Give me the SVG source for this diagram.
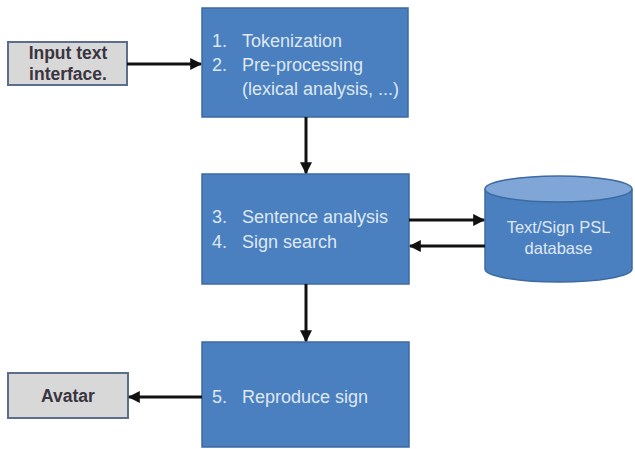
<svg xmlns="http://www.w3.org/2000/svg" width="635" height="449" viewBox="0 0 635 449">
  <defs>
    <marker id="arrow" viewBox="0 0 10 10" refX="9" refY="5" markerWidth="4" markerHeight="4" orient="auto" markerUnits="strokeWidth">
      <path d="M0,0 L10,5 L0,10 z" fill="#111"/>
    </marker>
    <style>
      .proc { fill: #4a7fc0; stroke: #3d6aa3; stroke-width: 1.5; }
      .io { fill: #d8d8d8; stroke: #5b6f8c; stroke-width: 2; }
      .ptxt { font-family: "Liberation Sans", Arial, sans-serif; font-size: 18px; fill: #dfe8f3; }
      .dbtxt { font-family: "Liberation Sans", Arial, sans-serif; font-size: 16.5px; fill: #dfe8f3; text-anchor: middle; }
      .iotxt { font-family: "Liberation Sans", Arial, sans-serif; font-size: 17.5px; font-weight: bold; fill: #3a3540; text-anchor: middle; }
      .conn { stroke: #111; stroke-width: 3; fill: none; marker-end: url(#arrow); }
    </style>
  </defs>
  <rect width="635" height="449" fill="#ffffff"/>

  <g id="input">
    <rect class="io" x="8" y="42" width="119" height="43"/>
    <text class="iotxt" x="68" y="59">Input text</text>
    <text class="iotxt" x="68" y="80">interface.</text>
  </g>

  <g id="step1">
    <rect class="proc" x="202" y="8" width="206" height="109"/>
    <text class="ptxt" x="212" y="47">1.</text>
    <text class="ptxt" x="242" y="47">Tokenization</text>
    <text class="ptxt" x="212" y="71">2.</text>
    <text class="ptxt" x="242" y="71">Pre-processing</text>
    <text class="ptxt" x="242" y="95">(lexical analysis, ...)</text>
  </g>

  <g id="step2">
    <rect class="proc" x="202" y="174" width="207" height="110"/>
    <text class="ptxt" x="212" y="223">3.</text>
    <text class="ptxt" x="242" y="223">Sentence analysis</text>
    <text class="ptxt" x="212" y="248">4.</text>
    <text class="ptxt" x="242" y="248">Sign search</text>
  </g>

  <g id="database">
    <path class="proc" d="M485,189 L485,269 A73.5,13 0 0 0 632,269 L632,189"/>
    <ellipse cx="558.5" cy="189" rx="73.5" ry="13" fill="#7fa6d6" stroke="#3d6aa3" stroke-width="1.5"/>
    <text class="dbtxt" x="558.5" y="233">Text/Sign PSL</text>
    <text class="dbtxt" x="558.5" y="254">database</text>
  </g>

  <g id="step3">
    <rect class="proc" x="202" y="342" width="207" height="105"/>
    <text class="ptxt" x="212" y="403">5.</text>
    <text class="ptxt" x="242" y="403">Reproduce sign</text>
  </g>

  <g id="avatar">
    <rect class="io" x="8" y="373" width="120" height="45"/>
    <text class="iotxt" x="68" y="402">Avatar</text>
  </g>

  <g id="connectors">
    <line class="conn" x1="127" y1="64" x2="201" y2="64"/>
    <line class="conn" x1="306" y1="117" x2="306" y2="173"/>
    <line class="conn" x1="409" y1="220" x2="484" y2="220"/>
    <line class="conn" x1="485" y1="246" x2="410" y2="246"/>
    <line class="conn" x1="306" y1="284" x2="306" y2="341"/>
    <line class="conn" x1="202" y1="397" x2="129" y2="397"/>
  </g>
</svg>
